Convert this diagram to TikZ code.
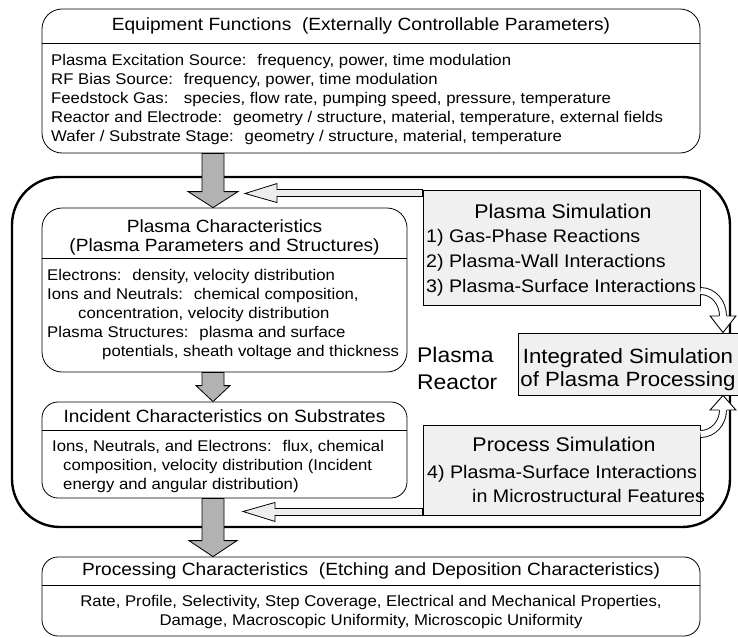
\documentclass[tikz,border=0pt]{standalone}
\usepackage{fontspec}
\setmainfont{Liberation Sans}[FakeStretch=1.08]
\usetikzlibrary{calc}

\newcommand{\bodysize}{\fontsize{15.5}{19}\selectfont}
\newcommand{\headsize}{\fontsize{17.7}{19}\selectfont}
\newcommand{\simsize}{\fontsize{18.2}{25}\selectfont}
\newcommand{\simhead}{\fontsize{19.8}{25}\selectfont}
\newcommand{\intsize}{\fontsize{20.6}{23}\selectfont}
\newcommand{\reactsize}{\fontsize{21.2}{27}\selectfont}

\begin{document}
\begin{tikzpicture}[x=1pt,y=-1pt,
	panel/.style={draw, line width=0.8pt, fill=white, inner sep=0pt},
	simbox/.style={draw, line width=0.9pt, fill=black!6, inner sep=0pt},
	reactorbox/.style={draw, line width=2.4pt, rounded corners=48pt, inner sep=0pt},
	divider/.style={line width=0.8pt},
	bodytext/.style={inner sep=0pt, align=left, anchor=west, font=\bodysize},
	headtext/.style={inner sep=0pt, align=center, font=\headsize},
	bigarrow/.style={draw, line width=0.8pt, fill=black!30, line join=miter},
	fbarrow/.style={draw, line width=0.8pt, fill=black!7, line join=miter},
	curvearrow/.style={double=white, double distance=6pt, line width=0.9pt},
	curvehead/.style={draw, line width=0.9pt, fill=white, line join=miter}]
	\useasboundingbox (0,0) rectangle (738,637);

	% plasma reactor frame
	\node[reactorbox, minimum width=718pt, minimum height=350pt] (reactor) at (371,352) {};
	\node[inner sep=0pt, anchor=west, align=left, font=\reactsize] (reactorlabel) at (417,368) {Plasma\\Reactor};

	% equipment functions
	\node[panel, rounded corners=20pt, minimum width=658pt, minimum height=144pt] (equip) at (371,81) {};
	\node[headtext] (equiptitle) at (361,26) {Equipment Functions~ (Externally Controllable Parameters)};
	\draw[divider] (equip.west |- 0,43) -- (equip.east |- 0,43);
	\node[bodytext] (equipbody) at (51,99.5) {Plasma Excitation Source:~ frequency, power, time modulation\\
		RF Bias Source:~ frequency, power, time modulation\\
		Feedstock Gas:~~ species, flow rate, pumping speed, pressure, temperature\\
		Reactor and Electrode:~ geometry / structure, material, temperature, external fields\\
		Wafer / Substrate Stage:~ geometry / structure, material, temperature};

	% plasma characteristics
	\node[panel, rounded corners=20pt, minimum width=365pt, minimum height=164pt] (pchar) at (224.5,290) {};
	\node[headtext] (pchartitle) at (224.5,237) {Plasma Characteristics\\(Plasma Parameters and Structures)};
	\draw[divider] (pchar.west |- 0,258) -- (pchar.east |- 0,258);
	\node[bodytext] (pcharbody) at (47,314.5) {Electrons:~ density, velocity distribution\\
		Ions and Neutrals:~ chemical composition,\\
		\hspace*{31pt}concentration, velocity distribution\\
		Plasma Structures:~ plasma and surface\\
		\hspace*{55pt}potentials, sheath voltage and thickness};

	% incident characteristics
	\node[panel, rounded corners=16pt, minimum width=365pt, minimum height=96pt] (incid) at (224.5,450) {};
	\node[headtext] (incidtitle) at (224.5,416) {Incident Characteristics on Substrates};
	\draw[divider] (incid.west |- 0,430) -- (incid.east |- 0,430);
	\node[bodytext] (incidbody) at (52,466.5) {Ions, Neutrals, and Electrons:~ flux, chemical\\
		\hspace*{11pt}composition, velocity distribution (Incident\\
		\hspace*{11pt}energy and angular distribution)};

	% processing characteristics
	\node[panel, rounded corners=16pt, minimum width=658pt, minimum height=79pt] (proc) at (371,596.5) {};
	\node[headtext] (proctitle) at (371,571) {Processing Characteristics~ (Etching and Deposition Characteristics)};
	\draw[divider] (proc.west |- 0,585) -- (proc.east |- 0,585);
	\node[bodytext, anchor=center, align=center] (procbody) at (371,612) {Rate, Profile, Selectivity, Step Coverage, Electrical and Mechanical Properties,\\
		Damage, Macroscopic Uniformity, Microscopic Uniformity};

	% simulations
	\node[simbox, minimum width=277pt, minimum height=115pt] (plasmasim) at (561.5,247.5) {};
	\node[inner sep=0pt, font=\simhead] (plasmasimtitle) at (563,211) {Plasma Simulation};
	\node[inner sep=0pt, anchor=west, align=left, font=\simsize] (plasmasimbody) at (426,262.5) {1) Gas-Phase Reactions\\
		2) Plasma-Wall Interactions\\
		3) Plasma-Surface Interactions};

	\node[simbox, minimum width=277pt, minimum height=90pt] (processsim) at (561.5,470) {};
	\node[inner sep=0pt, font=\simhead] (processsimtitle) at (564,444) {Process Simulation};
	\node[inner sep=0pt, anchor=west, align=left, font=\fontsize{18.2}{24}\selectfont] (processsimbody) at (427,483.5) {4) Plasma-Surface Interactions\\
		\hspace*{45pt}in Microstructural Features};

	\node[simbox, minimum width=240pt, minimum height=62pt] (integ) at (638,364) {};
	\node[inner sep=0pt, align=center, font=\intsize] (integtext) at (628,370) {Integrated Simulation\\of Plasma Processing};

	% big arrows
	\coordinate (axis) at (213,0);
	\draw[bigarrow] let \p1=(equip.south -| axis), \p2=(pchar.north -| axis) in
		(\x1-11pt,\y1) -- (\x1+11pt,\y1) -- (\x1+11pt,\y2+16pt) -- (\x1+25pt,\y2+16pt)
		-- (\x2,\y2) -- (\x1-25pt,\y2+16pt) -- (\x1-11pt,\y2+16pt) -- cycle;
	\draw[bigarrow] let \p1=(pchar.south -| axis), \p2=(incid.north -| axis) in
		(\x1-11pt,\y1) -- (\x1+11pt,\y1) -- (\x1+11pt,\y2+16pt) -- (\x1+17pt,\y2+16pt)
		-- (\x2,\y2) -- (\x1-17pt,\y2+16pt) -- (\x1-11pt,\y2+16pt) -- cycle;
	\draw[bigarrow] let \p1=(incid.south -| axis), \p2=(proc.north -| axis) in
		(\x1-11pt,\y1) -- (\x1+11pt,\y1) -- (\x1+11pt,\y2+16pt) -- (\x1+24pt,\y2+16pt)
		-- (\x2,\y2) -- (\x1-24pt,\y2+16pt) -- (\x1-11pt,\y2+16pt) -- cycle;

	% feedback arrows
	\coordinate (fbtip1) at (245,193.5);
	\coordinate (fbtip2) at (243,511.5);
	\draw[fbarrow] let \p1=(plasmasim.north west), \p2=(fbtip1) in
		(\x1,\y1) -- (\x2+32pt,\y1) -- (\x2+32pt,\y1+6pt) -- (\x2,\y2) -- (\x2+32pt,\y1-13pt)
		-- (\x2+32pt,\y1-7pt) -- (\x1,\y1-7pt) -- cycle;
	\draw[fbarrow] let \p1=(processsim.south west), \p2=(fbtip2) in
		(\x1,\y1) -- (\x2+32pt,\y1) -- (\x2+32pt,\y1-6pt) -- (\x2,\y2) -- (\x2+32pt,\y1+13pt)
		-- (\x2+32pt,\y1+7pt) -- (\x1,\y1+7pt) -- cycle;

	% curved arrows to the integrated simulation
	\coordinate (bend1) at (723,316);
	\coordinate (bend2) at (723,410);
	\draw[curvearrow] (plasmasim.east |- 0,291) to[out=0, in=90] (bend1);
	\draw[curvehead] ($(bend1)+(-3.9,0)$) -- ++(-9,0) -- (integ.north -| bend1) -- ($(bend1)+(12.9,0)$) -- ++(-9,0);
	\draw[curvearrow] (processsim.east |- 0,434) to[out=0, in=-90] (bend2);
	\draw[curvehead] ($(bend2)+(-3.9,0)$) -- ++(-9,0) -- (integ.south -| bend2) -- ($(bend2)+(12.9,0)$) -- ++(-9,0);
\end{tikzpicture}
\end{document}
